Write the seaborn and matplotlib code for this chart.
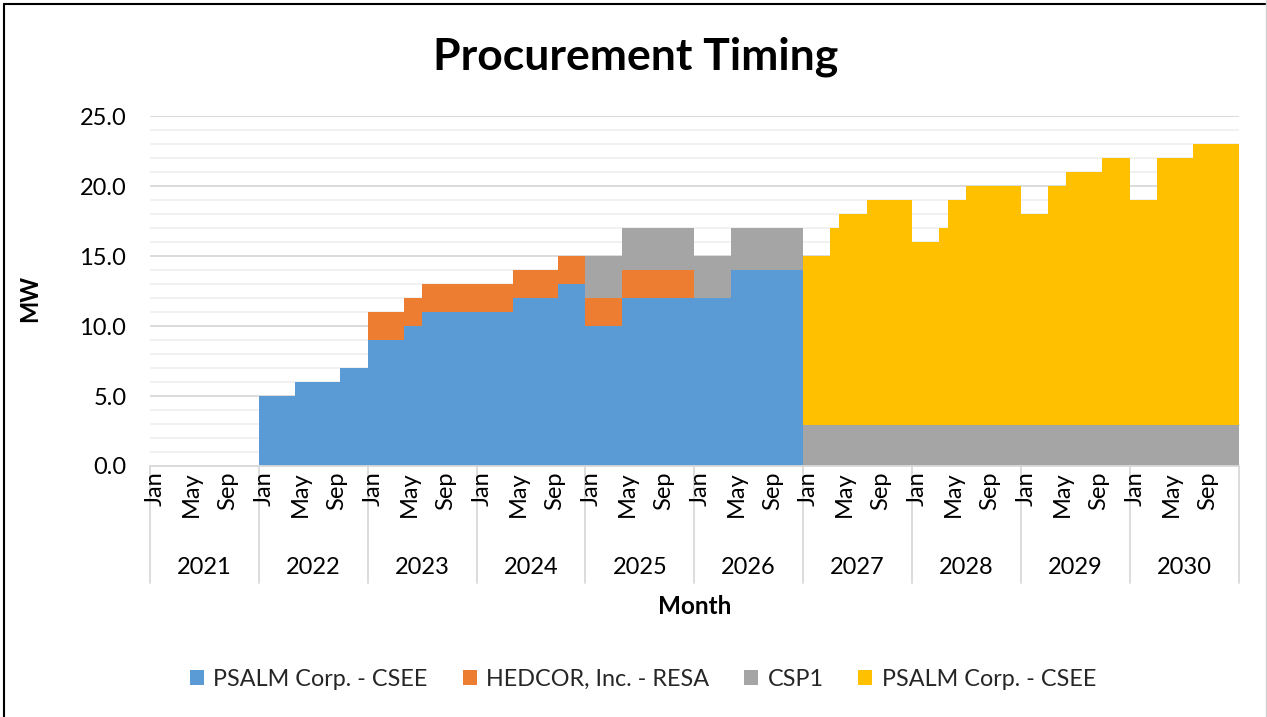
import matplotlib
matplotlib.use("Agg")
import matplotlib.pyplot as plt
import matplotlib.transforms as mtransforms
from matplotlib.patches import Patch
import numpy as np
import seaborn as sns

# monthly values, Jan 2021 .. Dec 2030 (one row of 12 per year)
years = [2021, 2022, 2023, 2024, 2025, 2026, 2027, 2028, 2029, 2030]
month_labels = ["Jan", "May", "Sep"]
month_label_idx = [0, 4, 8]

psalm_csee_1 = [
    0, 0, 0, 0, 0, 0, 0, 0, 0, 0, 0, 0,
    5, 5, 5, 5, 6, 6, 6, 6, 6, 7, 7, 7,
    9, 9, 9, 9, 10, 10, 11, 11, 11, 11, 11, 11,
    11, 11, 11, 11, 12, 12, 12, 12, 12, 13, 13, 13,
    10, 10, 10, 10, 12, 12, 12, 12, 12, 12, 12, 12,
    12, 12, 12, 12, 14, 14, 14, 14, 14, 14, 14, 14,
    0, 0, 0, 0, 0, 0, 0, 0, 0, 0, 0, 0,
    0, 0, 0, 0, 0, 0, 0, 0, 0, 0, 0, 0,
    0, 0, 0, 0, 0, 0, 0, 0, 0, 0, 0, 0,
    0, 0, 0, 0, 0, 0, 0, 0, 0, 0, 0, 0,
]
hedcor_resa = [
    0, 0, 0, 0, 0, 0, 0, 0, 0, 0, 0, 0,
    0, 0, 0, 0, 0, 0, 0, 0, 0, 0, 0, 0,
    2, 2, 2, 2, 2, 2, 2, 2, 2, 2, 2, 2,
    2, 2, 2, 2, 2, 2, 2, 2, 2, 2, 2, 2,
    2, 2, 2, 2, 2, 2, 2, 2, 2, 2, 2, 2,
    0, 0, 0, 0, 0, 0, 0, 0, 0, 0, 0, 0,
    0, 0, 0, 0, 0, 0, 0, 0, 0, 0, 0, 0,
    0, 0, 0, 0, 0, 0, 0, 0, 0, 0, 0, 0,
    0, 0, 0, 0, 0, 0, 0, 0, 0, 0, 0, 0,
    0, 0, 0, 0, 0, 0, 0, 0, 0, 0, 0, 0,
]
csp1 = [
    0, 0, 0, 0, 0, 0, 0, 0, 0, 0, 0, 0,
    0, 0, 0, 0, 0, 0, 0, 0, 0, 0, 0, 0,
    0, 0, 0, 0, 0, 0, 0, 0, 0, 0, 0, 0,
    0, 0, 0, 0, 0, 0, 0, 0, 0, 0, 0, 0,
    3, 3, 3, 3, 3, 3, 3, 3, 3, 3, 3, 3,
    3, 3, 3, 3, 3, 3, 3, 3, 3, 3, 3, 3,
    2.9, 2.9, 2.9, 2.9, 2.9, 2.9, 2.9, 2.9, 2.9, 2.9, 2.9, 2.9,
    2.9, 2.9, 2.9, 2.9, 2.9, 2.9, 2.9, 2.9, 2.9, 2.9, 2.9, 2.9,
    2.9, 2.9, 2.9, 2.9, 2.9, 2.9, 2.9, 2.9, 2.9, 2.9, 2.9, 2.9,
    2.9, 2.9, 2.9, 2.9, 2.9, 2.9, 2.9, 2.9, 2.9, 2.9, 2.9, 2.9,
]
psalm_csee_2 = [
    0, 0, 0, 0, 0, 0, 0, 0, 0, 0, 0, 0,
    0, 0, 0, 0, 0, 0, 0, 0, 0, 0, 0, 0,
    0, 0, 0, 0, 0, 0, 0, 0, 0, 0, 0, 0,
    0, 0, 0, 0, 0, 0, 0, 0, 0, 0, 0, 0,
    0, 0, 0, 0, 0, 0, 0, 0, 0, 0, 0, 0,
    0, 0, 0, 0, 0, 0, 0, 0, 0, 0, 0, 0,
    12.1, 12.1, 12.1, 14.1, 15.1, 15.1, 15.1, 16.1, 16.1, 16.1, 16.1, 16.1,
    13.1, 13.1, 13.1, 14.1, 16.1, 16.1, 17.1, 17.1, 17.1, 17.1, 17.1, 17.1,
    15.1, 15.1, 15.1, 17.1, 17.1, 18.1, 18.1, 18.1, 18.1, 19.1, 19.1, 19.1,
    16.1, 16.1, 16.1, 19.1, 19.1, 19.1, 19.1, 20.1, 20.1, 20.1, 20.1, 20.1,
]

series_names = ["PSALM Corp. - CSEE", "HEDCOR, Inc. - RESA", "CSP1", "PSALM Corp. - CSEE"]
series_colors = ["#5B9BD5", "#ED7D31", "#A5A5A5", "#FFC000"]

sns.set_theme(style="white")
plt.rcParams["font.family"] = ["Lato", "DejaVu Sans"]

W, H = 1267, 717
fig = plt.figure(figsize=(W / 100, H / 100), dpi=100)
ax_left, ax_right, ax_top, ax_bottom = 150, 1238.5, 116.5, 466
ax = fig.add_axes([ax_left / W, (H - ax_bottom) / H,
                   (ax_right - ax_left) / W, (ax_bottom - ax_top) / H])

n = len(psalm_csee_1)
x = np.arange(n + 1)
base = np.zeros(n + 1)
for vals, col in zip([psalm_csee_1, hedcor_resa, csp1, psalm_csee_2], series_colors):
    v = np.array(vals + [vals[-1]], dtype=float)
    ax.fill_between(x, base, base + v, step="post", color=col, lw=0, zorder=2)
    base = base + v

ax.set_xlim(0, n)
ax.set_ylim(0, 25)

# gridlines: light every 1 MW, darker every 5 MW
for yv in range(1, 26):
    c = "#d9d9d9" if yv % 5 == 0 else "#f0f0f0"
    ax.axhline(yv, color=c, lw=1.3, zorder=1)

ax.set_yticks(np.arange(0, 26, 5))
ax.set_yticklabels([f"{v:.1f}" for v in np.arange(0, 26, 5)])
ax.tick_params(axis="y", length=0, pad=17, labelsize=17, labelcolor="black")

xticks = [12 * i + m + 0.6 for i in range(len(years)) for m in month_label_idx]
xlabels = [lab for _ in years for lab in month_labels]
ax.set_xticks(xticks)
ax.set_xticklabels(xlabels, rotation=90, fontsize=17)
ax.tick_params(axis="x", length=0, pad=4, labelcolor="black")

sns.despine(ax=ax, left=True, top=True, right=True)
ax.spines["bottom"].set_color("#d9d9d9")
ax.spines["bottom"].set_linewidth(1.3)

# year level of the category axis
trans = mtransforms.blended_transform_factory(ax.transData, ax.transAxes)
sep_bottom = -(583 - ax_bottom) / (ax_bottom - ax_top)
year_y = -(567 - ax_bottom) / (ax_bottom - ax_top)
for i in range(len(years) + 1):
    ax.plot([12 * i, 12 * i], [0, sep_bottom], color="#d9d9d9", lw=1.3,
            transform=trans, clip_on=False, zorder=0.5)
for i, yr in enumerate(years):
    ax.text(12 * i + 6, year_y, str(yr), transform=trans, ha="center",
            va="center", fontsize=17, color="black")

fig.text(636 / W, 1 - 57 / H, "Procurement Timing", ha="center", va="center",
         fontsize=32, fontweight="bold", color="black")
fig.text(30 / W, 1 - 298 / H, "MW", ha="center", va="center", rotation=90,
         fontsize=17, fontweight="bold", color="black")
fig.text(695 / W, 1 - 606 / H, "Month", ha="center", va="center",
         fontsize=17.5, fontweight="bold", color="black")

handles = [Patch(facecolor=c, edgecolor="none") for c in series_colors]
fig.legend(handles, series_names, loc="center", bbox_to_anchor=(643 / W, 1 - 679 / H),
           ncol=4, frameon=False, fontsize=16.8, handlelength=0.6, handleheight=0.6,
           handletextpad=0.4, columnspacing=1.5)

# chart border
fig.add_artist(plt.Line2D([3.5 / W, 3.5 / W], [0, 1 - 3.5 / H], color="black", lw=1.5))
fig.add_artist(plt.Line2D([3.5 / W, 1], [1 - 3.5 / H, 1 - 3.5 / H], color="black", lw=1.5))
fig.add_artist(plt.Line2D([1266 / W, 1266 / W], [0, 1], color="#d0d0d0", lw=1))

fig.savefig("out.png", dpi=100, facecolor="white")
